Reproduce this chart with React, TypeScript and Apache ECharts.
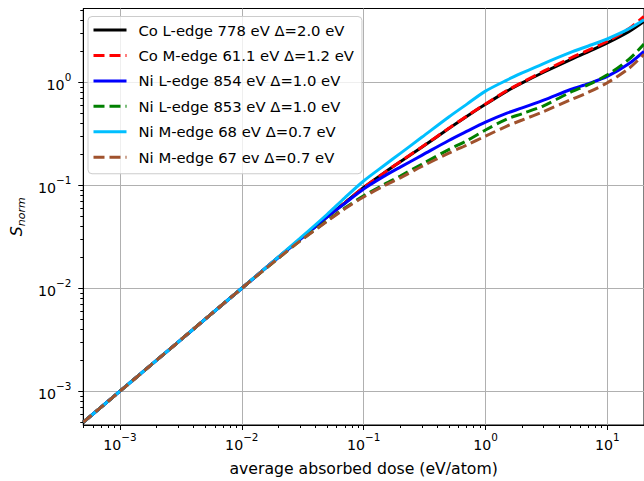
import React, { useEffect, useRef } from "react";
import * as echarts from "echarts";

// dose grid (eV/atom)
const doses = [5e-4, 1e-3, 3e-3, 0.01, 0.02, 0.03, 0.05, 0.07, 0.1, 0.15, 0.2, 0.3, 0.5, 0.7, 1, 1.5, 2, 3, 5, 7, 10, 15, 20];

const coL778 = [5e-4, 1e-3, 3e-3, 0.01, 0.02, 0.0298, 0.049, 0.0675, 0.095, 0.134, 0.169, 0.234, 0.355, 0.465, 0.61, 0.82, 0.985, 1.25, 1.66, 1.98, 2.41, 3.1, 3.9];
const coM611 = [5e-4, 1e-3, 3e-3, 0.01, 0.02, 0.0298, 0.049, 0.0675, 0.095, 0.134, 0.17, 0.235, 0.357, 0.468, 0.615, 0.83, 0.995, 1.28, 1.72, 2.05, 2.5, 3.3, 4.35];
const niL854 = [5e-4, 1e-3, 3e-3, 0.01, 0.02, 0.0297, 0.049, 0.0665, 0.092, 0.124, 0.15, 0.195, 0.272, 0.333, 0.41, 0.502, 0.563, 0.67, 0.85, 0.97, 1.14, 1.51, 1.99];
const niL853 = [5e-4, 1e-3, 3e-3, 0.01, 0.0196, 0.0288, 0.045, 0.06, 0.079, 0.103, 0.123, 0.16, 0.222, 0.27, 0.344, 0.44, 0.495, 0.59, 0.8, 0.947, 1.18, 1.665, 2.35];
const niM68 = [5e-4, 1e-3, 3e-3, 0.01, 0.0202, 0.0305, 0.052, 0.0755, 0.11, 0.158, 0.204, 0.292, 0.46, 0.61, 0.82, 1.05, 1.23, 1.52, 1.95, 2.25, 2.64, 3.3, 4.05];
const niM67 = [5e-4, 1e-3, 3e-3, 0.01, 0.0196, 0.0287, 0.0445, 0.059, 0.077, 0.1, 0.118, 0.152, 0.205, 0.245, 0.3, 0.375, 0.43, 0.52, 0.675, 0.8, 0.99, 1.36, 1.87];

const seriesNames = [
  "Co L-edge 778 eV Δ=2.0 eV",
  "Co M-edge 61.1 eV Δ=1.2 eV",
  "Ni L-edge 854 eV Δ=1.0 eV",
  "Ni L-edge 853 eV Δ=1.0 eV",
  "Ni M-edge 68 eV Δ=0.7 eV",
  "Ni M-edge 67 ev Δ=0.7 eV",
];
const seriesValues = [coL778, coM611, niL854, niL853, niM68, niM67];
const seriesColors = ["#000000", "#ff0000", "#0000ff", "#008000", "#00bfff", "#a0522d"];
const seriesDashed = [false, true, false, true, false, true];

const xMajorTicks = [1e-3, 1e-2, 1e-1, 1, 10];
const yMajorTicks = [1e-3, 1e-2, 1e-1, 1];
const xRange = [5e-4, 20];
const yRange = [4.7e-4, 5.2];

function minorTicks(lo: number, hi: number): number[] {
  const out: number[] = [];
  for (let e = -5; e <= 2; e++) {
    for (let k = 2; k <= 9; k++) {
      const v = k * Math.pow(10, e);
      if (v >= lo && v <= hi) out.push(v);
    }
  }
  return out;
}

const supMap: Record<string, string> = { "-": "−" };
function powLabel(v: number) {
  const e = Math.round(Math.log10(v));
  const s = String(e).split("").map((c) => supMap[c] || c).join("");
  return `{b|10}{e|${s}}`;
}

const FONT = "DejaVu Sans";
const labelRich = {
  b: { fontFamily: FONT, fontSize: 14.2, color: "#000", lineHeight: 20, verticalAlign: "bottom" },
  e: { fontFamily: FONT, fontSize: 10.4, color: "#000", lineHeight: 11, verticalAlign: "top" },
};

export default function App() {
  const ref = useRef<HTMLDivElement>(null);
  useEffect(() => {
    if (!ref.current) return;
    const chart = echarts.init(ref.current, undefined, { renderer: "svg" });
    const series = seriesNames.map((name, i) => ({
      name,
      type: "line",
      xAxisIndex: 0,
      yAxisIndex: 0,
      data: doses.map((d, j) => [d, seriesValues[i][j]]),
      symbol: "none",
      smooth: 0.3,
      lineStyle: {
        color: seriesColors[i],
        width: 3,
        type: seriesDashed[i] ? [11, 5] : "solid",
      },
      itemStyle: { color: seriesColors[i] },
      z: 2 + i,
    }));
    const tickStyle = { color: "#000", width: 1 };
    chart.setOption({
      animation: false,
      backgroundColor: "#fff",
      grid: {
        left: 80.5,
        top: 8.5,
        right: -0.7,
        bottom: 50,
        show: true,
        borderColor: "#000",
        borderWidth: 1,
        backgroundColor: "transparent",
        containLabel: false,
      },
      legend: {
        orient: "vertical",
        left: 88,
        top: 16.5,
        padding: [6, 8, 9, 4],
        itemWidth: 33,
        itemHeight: 14,
        itemGap: 10.45,
        backgroundColor: "rgba(255,255,255,0.8)",
        borderColor: "#cccccc",
        borderWidth: 1,
        borderRadius: 4,
        itemStyle: { opacity: 0 },
        lineStyle: { width: 3 },
        textStyle: { fontFamily: FONT, fontSize: 14.8, color: "#000", padding: [0, 0, 0, 7] },
        data: seriesNames,
      },
      xAxis: [
        {
          type: "log",
          logBase: 10,
          min: xRange[0],
          max: xRange[1],
          name: "average absorbed dose (eV/atom)",
          nameLocation: "middle",
          nameGap: 35,
          nameTextStyle: { fontFamily: FONT, fontSize: 15.7, color: "#000" },
          axisLine: { show: true, onZero: false, lineStyle: tickStyle },
          axisTick: { show: true, length: 5, customValues: xMajorTicks, lineStyle: tickStyle },
          axisLabel: {
            customValues: xMajorTicks,
            formatter: (v: number) => powLabel(v),
            rich: labelRich,
            margin: 7,
          },
          splitLine: { show: true, lineStyle: { color: "#b0b0b0", width: 1 } },
        },
        {
          type: "log",
          logBase: 10,
          min: xRange[0],
          max: xRange[1],
          position: "bottom",
          axisLine: { show: false },
          axisTick: { show: true, length: 3, customValues: minorTicks(xRange[0], xRange[1]), lineStyle: tickStyle },
          axisLabel: { show: false },
          splitLine: { show: false },
        },
      ],
      yAxis: [
        {
          type: "log",
          logBase: 10,
          min: yRange[0],
          max: yRange[1],
          name: "{s|S}{n|norm}",
          nameLocation: "middle",
          nameGap: 52,
          nameTextStyle: {
            rich: {
              s: { fontFamily: FONT, fontSize: 15.7, fontStyle: "italic", color: "#000", lineHeight: 19, verticalAlign: "top" },
              n: { fontFamily: FONT, fontSize: 11, fontStyle: "italic", color: "#000", lineHeight: 11, verticalAlign: "bottom" },
            },
          },
          axisLine: { show: true, onZero: false, lineStyle: tickStyle },
          axisTick: { show: true, length: 5, customValues: yMajorTicks, lineStyle: tickStyle },
          axisLabel: {
            customValues: yMajorTicks,
            formatter: (v: number) => powLabel(v),
            rich: labelRich,
            margin: 12,
          },
          splitLine: { show: true, lineStyle: { color: "#b0b0b0", width: 1 } },
        },
        {
          type: "log",
          logBase: 10,
          min: yRange[0],
          max: yRange[1],
          position: "left",
          axisLine: { show: false },
          axisTick: { show: true, length: 3, customValues: minorTicks(yRange[0], yRange[1]), lineStyle: tickStyle },
          axisLabel: { show: false },
          splitLine: { show: false },
        },
      ],
      series,
    });
    return () => chart.dispose();
  }, []);
  return <div ref={ref} style={{ position: "fixed", left: 0, top: 0, width: 644, height: 481 }} />;
}
